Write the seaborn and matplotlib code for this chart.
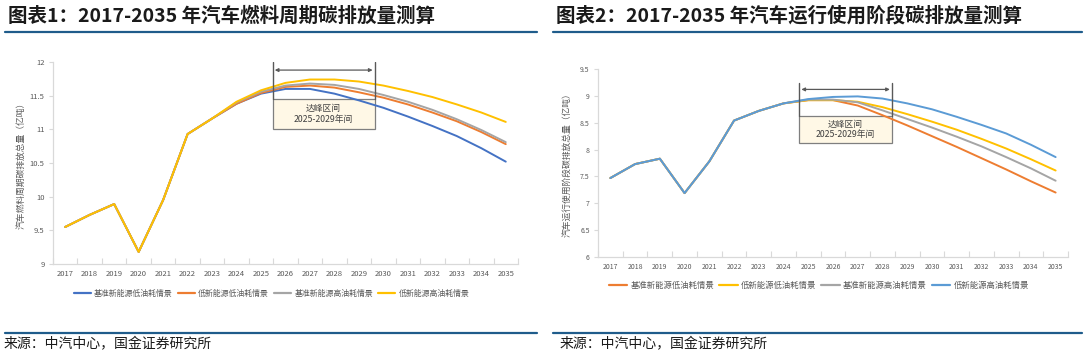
import matplotlib
matplotlib.use("Agg")
import matplotlib.pyplot as plt
import seaborn as sns
import pandas as pd
from matplotlib.patches import Rectangle
from matplotlib.lines import Line2D

sns.set_theme(style="white")
plt.rcParams['font.family'] = ['Noto Sans CJK SC', 'DejaVu Sans']

years = list(range(2017, 2036))

# Chart 1: fuel-cycle emissions (亿吨)
c1_names = ["基准新能源低油耗情景", "低新能源低油耗情景", "基准新能源高油耗情景", "低新能源高油耗情景"]
c1_colors = ["#4472C4", "#ED7D31", "#A5A5A5", "#FFC000"]
c1_common = [9.55, 9.73, 9.89, 9.18, 9.95, 10.93, 11.16]
c1_blue = c1_common + [11.38, 11.53, 11.60, 11.60, 11.53, 11.43, 11.32, 11.19, 11.05, 10.90, 10.72, 10.52]
c1_orange = c1_common + [11.38, 11.54, 11.63, 11.65, 11.62, 11.55, 11.47, 11.37, 11.25, 11.12, 10.96, 10.78]
c1_gray = c1_common + [11.40, 11.56, 11.65, 11.68, 11.66, 11.60, 11.51, 11.41, 11.29, 11.15, 10.99, 10.81]
c1_yellow = c1_common + [11.41, 11.58, 11.69, 11.74, 11.74, 11.71, 11.65, 11.57, 11.48, 11.37, 11.25, 11.11]

# Chart 2: operation-stage emissions (亿吨)
c2_names = ["基准新能源低油耗情景", "低新能源低油耗情景", "基准新能源高油耗情景", "低新能源高油耗情景"]
c2_colors = ["#ED7D31", "#FFC000", "#A5A5A5", "#5B9BD5"]
c2_common = [7.47, 7.73, 7.83, 7.19, 7.78, 8.54, 8.72, 8.86]
c2_orange = c2_common + [8.92, 8.92, 8.82, 8.64, 8.45, 8.25, 8.05, 7.84, 7.63, 7.41, 7.20]
c2_yellow = c2_common + [8.92, 8.92, 8.89, 8.79, 8.66, 8.52, 8.37, 8.20, 8.02, 7.82, 7.61]
c2_gray = c2_common + [8.93, 8.93, 8.88, 8.73, 8.57, 8.41, 8.24, 8.06, 7.86, 7.65, 7.42]
c2_blue = c2_common + [8.94, 8.98, 8.99, 8.95, 8.86, 8.75, 8.61, 8.46, 8.30, 8.09, 7.86]

c1_yticks = [9, 9.5, 10, 10.5, 11, 11.5, 12]
c1_yticklabels = ["9", "9.5", "10", "10.5", "11", "11.5", "12"]
c2_yticks = [6, 6.5, 7, 7.5, 8, 8.5, 9, 9.5]
c2_yticklabels = ["6", "6.5", "7", "7.5", "8", "8.5", "9", "9.5"]

title1 = "图表1：2017-2035 年汽车燃料周期碳排放量测算"
title2 = "图表2：2017-2035 年汽车运行使用阶段碳排放量测算"
ylabel1 = "汽车燃料周期碳排放总量（亿吨）"
ylabel2 = "汽车运行使用阶段碳排放总量（亿吨）"
source = "来源：中汽中心，国金证券研究所"
box_text = "达峰区间\n2025-2029年间"

def long_df(names, series):
    rows = []
    for n, s in zip(names, series):
        for y, v in zip(years, s):
            rows.append({"year": y, "value": v, "series": n})
    return pd.DataFrame(rows)

df1 = long_df(c1_names, [c1_blue, c1_orange, c1_gray, c1_yellow])
df2 = long_df(c2_names, [c2_orange, c2_yellow, c2_gray, c2_blue])

W, H = 1086, 354
fig = plt.figure(figsize=(W / 100, H / 100), dpi=100)

def px_axes(x0, x1, ytop, ybot):
    return fig.add_axes([x0 / W, 1 - ybot / H, (x1 - x0) / W, (ybot - ytop) / H])

ax1 = px_axes(53, 518, 62, 264)
ax2 = px_axes(598, 1068, 69, 257)

tick_color = "#595959"
spine_color = "#D9D9D9"

def style_axes(ax, df, names, colors, yticks, ylabels, ylim, ylabel, fs, box, legend_y, legend_fs, labelpad):
    sns.lineplot(data=df, x="year", y="value", hue="series", hue_order=names,
                 palette=dict(zip(names, colors)), ax=ax, linewidth=1.4, legend=False, zorder=3)
    ax.set_xlim(2016.5, 2035.5)
    ax.set_ylim(*ylim)
    ax.set_xticks(years)
    ax.set_xticklabels([str(y) for y in years], fontsize=fs, color=tick_color)
    ax.set_xticks([y + 0.5 for y in range(2016, 2036)], minor=True)
    ax.set_yticks(yticks)
    ax.set_yticklabels(ylabels, fontsize=fs, color=tick_color)
    ax.tick_params(axis="x", which="major", length=0, pad=4)
    ax.tick_params(axis="x", which="minor", direction="in", length=4, color=spine_color, width=0.8, bottom=True)
    ax.tick_params(axis="y", which="major", direction="out", length=3, color=spine_color, width=0.8, left=True, pad=3)
    for s in ["top", "right"]:
        ax.spines[s].set_visible(False)
    for s in ["left", "bottom"]:
        ax.spines[s].set_color(spine_color)
        ax.spines[s].set_linewidth(0.9)
    ax.set_xlabel("")
    ax.set_ylabel(ylabel, fontsize=6.3, color=tick_color, labelpad=labelpad)
    # peak annotation
    bx0, bx1, by0, by1, ytop, yarrow = box
    ax.add_patch(Rectangle((bx0, by0), bx1 - bx0, by1 - by0, facecolor="#FFF8E6",
                           edgecolor="#7F7F7F", linewidth=0.9, zorder=2))
    for xx in (bx0, bx1):
        ax.plot([xx, xx], [by1, ytop], color="#595959", linewidth=1.0, zorder=4)
    ax.annotate("", xy=(bx0 + 0.08, yarrow), xytext=(bx1 - 0.08, yarrow),
                arrowprops=dict(arrowstyle="<|-|>", color="#595959", lw=0.9,
                                mutation_scale=5, shrinkA=0, shrinkB=0), zorder=4)
    ax.text((bx0 + bx1) / 2, (by0 + by1) / 2, box_text, ha="center", va="center",
            fontsize=6.3, color="#404040", linespacing=1.2, zorder=4)
    handles = [Line2D([0], [0], color=c, lw=1.6) for c in colors]
    ax.legend(handles, names, loc="center", bbox_to_anchor=(0.47, legend_y), ncol=4,
              frameon=False, fontsize=legend_fs, handlelength=2.2, handletextpad=0.4,
              columnspacing=0.6, labelcolor=tick_color)

style_axes(ax1, df1, c1_names, c1_colors, c1_yticks, c1_yticklabels, (9, 12), ylabel1, 5.5,
           (2025.48, 2029.64, 11.0, 11.45, 12.0, 11.88), -0.145, 5.7, 3)
style_axes(ax2, df2, c2_names, c2_colors, c2_yticks, c2_yticklabels, (6, 9.5), ylabel2, 5.0,
           (2024.64, 2028.38, 8.13, 8.62, 9.245, 9.12), -0.15, 6.0, 6)

# titles and rules
fig.text(8 / W, 1 - 16 / H, title1, fontsize=14, fontweight="bold", color="#1a1a1a", va="center", ha="left")
fig.text(556 / W, 1 - 16 / H, title2, fontsize=14, fontweight="bold", color="#1a1a1a", va="center", ha="left")
for (x0, x1) in [(5, 537), (553, 1082)]:
    fig.add_artist(Line2D([x0 / W, x1 / W], [1 - 32 / H, 1 - 32 / H], color="#1F5C8B", lw=1.6))
    fig.add_artist(Line2D([x0 / W, x1 / W], [1 - 333 / H, 1 - 333 / H], color="#1F5C8B", lw=1.6))
fig.text(4 / W, 1 - 344 / H, source, fontsize=10, color="#1a1a1a", va="center", ha="left")
fig.text(560 / W, 1 - 344 / H, source, fontsize=10, color="#1a1a1a", va="center", ha="left")

fig.savefig("out.png", dpi=100, facecolor="white")
